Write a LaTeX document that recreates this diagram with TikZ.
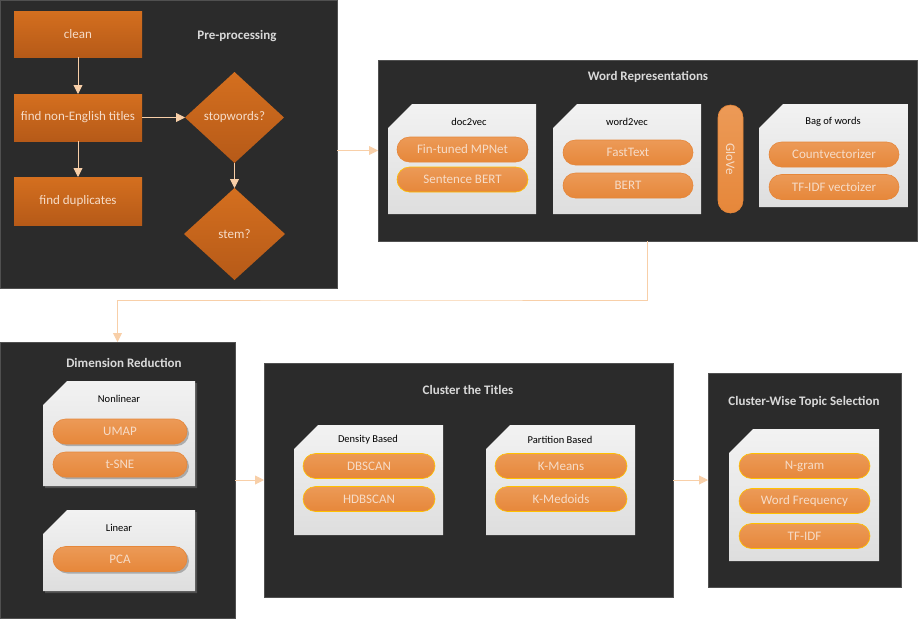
\documentclass[tikz,border=0pt]{standalone}
\usepackage{fontspec}
\setmainfont{Carlito}
\usetikzlibrary{shapes.geometric,shapes.misc,arrows.meta,shadows,calc,positioning}
\definecolor{panelbg}{HTML}{2B2B2B}
\definecolor{panelline}{HTML}{505050}
\definecolor{flowtop}{HTML}{D46F1F}
\definecolor{flowbot}{HTML}{B65A18}
\definecolor{pilltop}{HTML}{EC9A57}
\definecolor{pillbot}{HTML}{E6873A}
\definecolor{pilltext}{HTML}{F6DCC8}
\definecolor{pillring}{HTML}{FFC000}
\definecolor{titletext}{HTML}{D9D9D9}
\definecolor{conncol}{HTML}{F8CFA8}
\tikzset{
panel/.style 2 args={rectangle, draw=panelline, fill=panelbg, line width=0.8pt,
  minimum width=#1pt, minimum height=#2pt}, % dark frame of one stage
paneltitle/.style={text=titletext, font=\fontsize{13}{15}\selectfont\bfseries},
flowbox/.style={rectangle, top color=flowtop, bottom color=flowbot,
  text=pilltext, minimum width=128pt, font=\fontsize{13}{15}\selectfont},
decide/.style={diamond, top color=flowtop, bottom color=flowbot,
  text=pilltext, font=\fontsize{13}{15}\selectfont},
card/.style={top color=white!95!black, bottom color=white!87!black}, % light card
cardtitle/.style={text=black, font=\fontsize{10.5}{12}\selectfont},
pill/.style={rounded rectangle, top color=pilltop, bottom color=pillbot,
  draw=pillbot, line width=0.6pt, text=pilltext, minimum width=131pt,
  minimum height=25pt, font=\fontsize{13}{15}\selectfont},
ring/.style={draw=pillring}, % yellow rim on some pills
lift/.style={drop shadow={shadow xshift=2pt, shadow yshift=-2pt, fill=black!55}},
conn/.style={draw=conncol, line width=0.9pt, -{Triangle[length=9pt,width=9pt]}},
}

\begin{document}
\begin{tikzpicture}[x=1pt, y=-1pt,
  every node/.style={inner sep=0pt, outer sep=0pt}]
  \useasboundingbox (0,0) rectangle (918,619);
  % stages
  \node[panel={337}{288}] (pre) at (168.5,144) {};
  \node[panel={539}{181}] (rep) at (647.5,150.5) {};
  \node[panel={235}{276}] (dim) at (117.5,480) {};
  \node[panel={409}{234}] (clu) at (468.5,480) {};
  \node[panel={193}{214}] (sel) at (804.5,480) {};
  \node[paneltitle] (pretitle) at (237,36) {Pre-processing};
  \node[paneltitle] (reptitle) at (648,77) {Word Representations};
  \node[paneltitle] (dimtitle) at (124,363) {Dimension Reduction};
  \node[paneltitle] (clutitle) at (468,390) {Cluster the Titles};
  \node[paneltitle] (seltitle) at (804,402) {Cluster-Wise Topic Selection};

  % pre-processing steps
  \node[flowbox, minimum height=46pt] (clean) at (78,34) {clean};
  \node[flowbox, minimum height=47pt] (nonen) at (78,117.5) {find non-English titles};
  \node[flowbox, minimum height=48pt] (dups) at (78,201) {find duplicates};
  \node[decide, minimum width=99pt, minimum height=91pt] (stop) at (234.5,117.5) {stopwords?};
  \node[decide, minimum width=101pt, minimum height=92pt] (stem) at (234.5,234) {stem?};
  \draw[conn] (clean) -- (nonen);
  \draw[conn] (nonen) -- (dups);
  \draw[conn] (nonen) -- (stop);
  \draw[conn] (stop) -- (stem);

  % cards with a cut corner (left, top, right, bottom)
  \foreach \xa/\ya/\xb/\yb in {388/104/536/214, 553/104/701/214, 759/104/908/207,
      294/425/443/535, 486/425/635/535, 729/429/879/561}
    \path[card] (\xa+24,\ya) -- (\xb,\ya) -- (\xb,\yb) -- (\xa,\yb) -- (\xa,\ya+24) -- cycle;
  \foreach \xa/\ya/\xb/\yb in {43/381/195/486, 43/510/195/591}
    \path[card, lift] (\xa+24,\ya) -- (\xb,\ya) -- (\xb,\yb) -- (\xa,\yb) -- (\xa,\ya+24) -- cycle;

  % word representations
  \node[cardtitle] (doctitle) at (469,122) {doc2vec};
  \node[cardtitle] (wtvtitle) at (627,122) {word2vec};
  \node[cardtitle] (bowtitle) at (833,122) {Bag of words};
  \node[pill] (mpnet) at (462.5,149.5) {Fin-tuned MPNet};
  \node[pill, ring] (sbert) at (462.5,179.5) {Sentence BERT};
  \node[pill, minimum width=130pt] (fasttext) at (628,152.5) {FastText};
  \node[pill, minimum width=130pt] (bert) at (628,185.5) {BERT};
  \node[pill, rotate=-90, minimum width=108pt] (glove) at (730.5,159) {GloVe};
  \node[pill, minimum width=130pt] (countv) at (834,154.5) {Countvectorizer};
  \node[pill, minimum width=130pt] (tfidfv) at (834,187) {TF-IDF vectoizer};

  % dimension reduction
  \node[cardtitle] (nonlintitle) at (119,399) {Nonlinear};
  \node[cardtitle] (lintitle) at (119,528) {Linear};
  \node[pill, lift, minimum width=134pt] (umap) at (120,431.5) {UMAP};
  \node[pill, lift, minimum width=134pt] (tsne) at (120,464.5) {t-SNE};
  \node[pill, lift, minimum width=134pt] (pca) at (120,559) {PCA};

  % clustering
  \node[cardtitle] (denstitle) at (368,440) {Density Based};
  \node[cardtitle] (parttitle) at (560,440) {Partition Based};
  \node[pill, ring, minimum width=132pt] (dbscan) at (369,466) {DBSCAN};
  \node[pill, ring, minimum width=132pt] (hdbscan) at (369,499) {HDBSCAN};
  \node[pill, ring, minimum width=132pt] (kmeans) at (561,466) {K-Means};
  \node[pill, ring, minimum width=132pt] (kmedoids) at (561,499) {K-Medoids};

  % topic selection
  \node[pill, ring] (ngram) at (804.5,466) {N-gram};
  \node[pill, ring] (wfreq) at (804.5,501) {Word Frequency};
  \node[pill, ring] (tfidf) at (804.5,536) {TF-IDF};

  % stage to stage
  \coordinate (bend) at (400,300);
  \draw[conn] (rep.west -| pre.east) -- (rep.west);
  \draw[conn] (rep.south) |- (bend) -| (dim.north);
  \draw[conn] (dim.east) -- (clu.west);
  \draw[conn] (clu.east) -- (sel.west);
\end{tikzpicture}
\end{document}
